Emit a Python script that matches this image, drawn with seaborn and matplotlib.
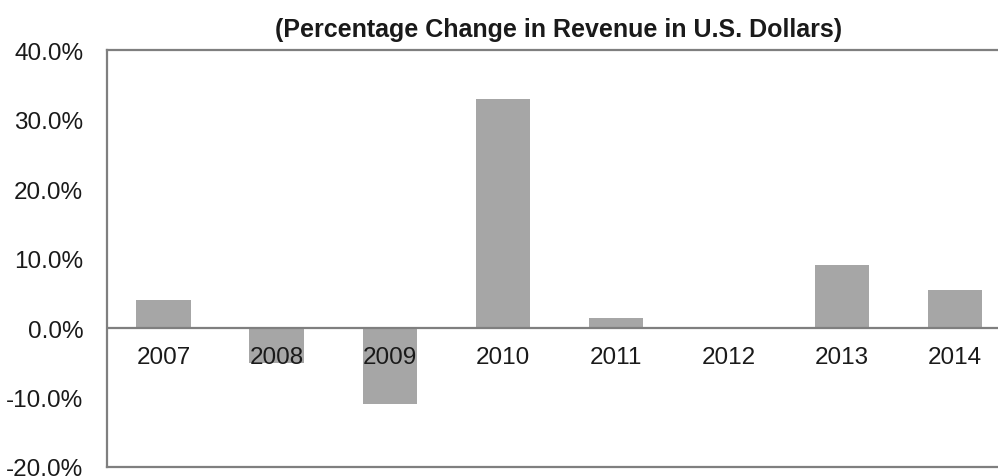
import matplotlib
matplotlib.use('Agg')
import matplotlib.pyplot as plt
import pandas as pd
import seaborn as sns

years = ['2007', '2008', '2009', '2010', '2011', '2012', '2013', '2014']
pct_change = [4.1, -5.0, -11.0, 33.0, 1.4, 0.0, 9.1, 5.5]

df = pd.DataFrame({'Year': years, 'Change': pct_change})

sns.set_style('white')
plt.rcParams['font.family'] = ['Liberation Sans', 'DejaVu Sans']

fig = plt.figure(figsize=(9.98, 4.77), dpi=100)
ax = fig.add_axes([0.1072, 0.0189, 0.8928, 0.874])

sns.barplot(data=df, x='Year', y='Change', color='#a6a6a6', saturation=1,
            width=0.48, edgecolor='none', ax=ax)

ax.set_ylim(-20, 40)
ax.set_xlim(-0.5, 7.38)
ax.set_yticks(range(-20, 41, 10))
ax.set_yticklabels([f'{v:.1f}%' for v in range(-20, 41, 10)], fontsize=17.5, color='#1a1a1a')
ax.tick_params(axis='y', length=0, pad=17)
ax.set_xticks([])
ax.set_xlabel('')
ax.set_ylabel('')

# zero line with the year labels sitting just under it
ax.axhline(0, color='#7f7f7f', lw=1.6, zorder=3)
for i, yr in enumerate(years):
    ax.text(i, -2.6, yr, ha='center', va='top', fontsize=17.5, color='#1a1a1a', zorder=4)

for side in ['left', 'top', 'bottom']:
    ax.spines[side].set_color('#7f7f7f')
    ax.spines[side].set_linewidth(1.6)
ax.spines['right'].set_visible(False)

fig.text(0.56, 0.937, '(Percentage Change in Revenue in U.S. Dollars)',
         ha='center', va='center', fontsize=18, fontweight='bold', color='#1a1a1a')

fig.savefig('out.png', dpi=100)
